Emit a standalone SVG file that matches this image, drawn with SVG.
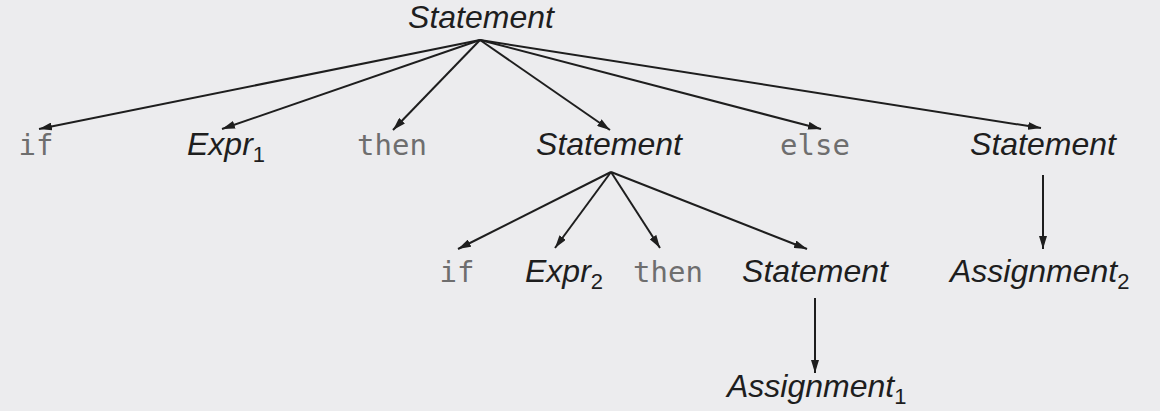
<svg xmlns="http://www.w3.org/2000/svg" width="1160" height="411" viewBox="0 0 1160 411">
  <style>
    .nt { font-family: "Liberation Sans", Arial, sans-serif; font-style: italic; font-size: 32px; fill: #1e1e1e; }
    .sub { font-style: normal; font-size: 22px; }
    .kw { font-family: "DejaVu Sans Mono", "Liberation Mono", monospace; font-size: 29px; fill: #6e6e6e; text-anchor: middle; }
    .mid { text-anchor: middle; }
    .edge { stroke: #1e1e1e; stroke-width: 2; fill: none; marker-end: url(#arrow); }
  </style>
  <defs>
    <marker id="arrow" viewBox="0 0 13 8" refX="13" refY="4" markerWidth="13" markerHeight="8" markerUnits="userSpaceOnUse" orient="auto">
      <path d="M0,0 L13,4 L0,8 Z" fill="#1e1e1e"/>
    </marker>
  </defs>
  <rect width="1160" height="411" fill="#ececee"/>

  <!-- parse-tree edges -->
  <g id="connectors">
    <line class="edge" x1="480" y1="40" x2="39" y2="129"/>
    <line class="edge" x1="480" y1="40" x2="222" y2="129"/>
    <line class="edge" x1="480" y1="40" x2="393" y2="130"/>
    <line class="edge" x1="480" y1="40" x2="610" y2="130"/>
    <line class="edge" x1="480" y1="40" x2="821" y2="129"/>
    <line class="edge" x1="480" y1="40" x2="1041" y2="128"/>
    <line class="edge" x1="611" y1="172" x2="458" y2="249"/>
    <line class="edge" x1="611" y1="172" x2="555" y2="248"/>
    <line class="edge" x1="611" y1="172" x2="660" y2="248"/>
    <line class="edge" x1="611" y1="172" x2="807" y2="249"/>
    <line class="edge" x1="815" y1="298" x2="815" y2="373"/>
    <line class="edge" x1="1043" y1="175" x2="1043" y2="249"/>
  </g>

  <!-- root -->
  <g id="stmt-root"><text class="nt mid" x="481" y="28">Statement</text></g>

  <!-- first level -->
  <g id="if-1"><text class="kw" x="36" y="155">if</text></g>
  <g id="expr-1"><text class="nt" x="187" y="155">Expr<tspan class="sub" dy="7">1</tspan></text></g>
  <g id="then-1"><text class="kw" x="392" y="155">then</text></g>
  <g id="stmt-inner"><text class="nt mid" x="609" y="155">Statement</text></g>
  <g id="else-1"><text class="kw" x="815" y="155">else</text></g>
  <g id="stmt-else"><text class="nt mid" x="1043" y="155">Statement</text></g>

  <!-- second level -->
  <g id="if-2"><text class="kw" x="457" y="282">if</text></g>
  <g id="expr-2"><text class="nt" x="525" y="282">Expr<tspan class="sub" dy="7">2</tspan></text></g>
  <g id="then-2"><text class="kw" x="668" y="282">then</text></g>
  <g id="stmt-then"><text class="nt mid" x="815" y="282">Statement</text></g>
  <g id="assign-2"><text class="nt" x="950" y="282">Assignment<tspan class="sub" dy="7">2</tspan></text></g>

  <!-- third level -->
  <g id="assign-1"><text class="nt" x="727" y="397">Assignment<tspan class="sub" dy="7">1</tspan></text></g>
</svg>
